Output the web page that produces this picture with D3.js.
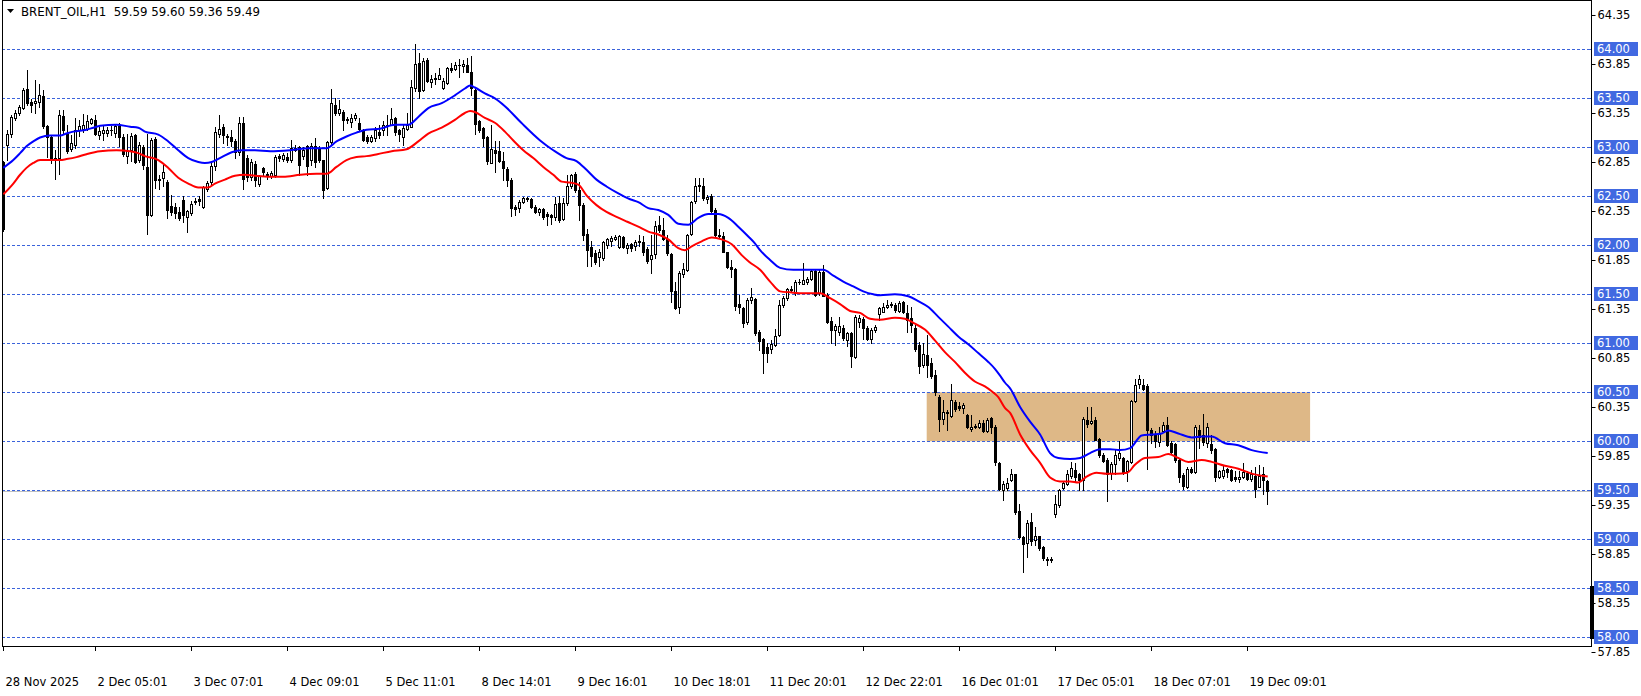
<!DOCTYPE html>
<html><head><meta charset="utf-8">
<script src="https://cdn.jsdelivr.net/npm/d3@7"></script>
<style>html,body{margin:0;padding:0;background:#fff;overflow:hidden}svg{display:block}text{font-family:"DejaVu Sans",sans-serif}</style>
</head><body><svg id="c" width="1641" height="696"></svg>
<script>
// ---- DATA (BRENT_OIL, H1) ----
const opens = [
62.85,63.02,63.14,63.30,63.35,63.40,63.59,63.46,63.45,63.46,63.52,63.22,63.10,62.89,62.89,63.32,63.14,62.98,63.02,63.18,63.19,63.19,63.25,63.28,63.13,63.15,63.15,63.18,63.15,63.22,63.11,62.91,
62.97,63.13,62.87,63.00,62.80,62.31,63.08,62.68,62.69,62.65,62.40,62.39,62.34,62.46,62.29,62.33,62.44,62.47,62.39,62.57,62.65,62.81,63.14,63.21,63.12,63.11,63.06,62.95,63.25,62.89,62.70,
62.83,62.63,62.79,62.73,62.71,62.72,62.91,62.88,62.90,62.87,62.99,63.00,62.91,63.01,62.87,63.01,62.99,62.87,62.58,63.05,63.43,63.35,63.36,63.29,63.26,63.30,63.25,63.18,63.11,63.06,63.09,
63.16,63.18,63.23,63.23,63.30,63.18,63.10,63.19,63.21,63.60,63.86,63.58,63.89,63.67,63.70,63.70,63.60,63.66,63.81,63.80,63.84,63.83,63.84,63.77,63.58,63.27,63.20,63.10,62.84,62.97,62.96,62.86,
62.78,62.67,62.39,62.38,62.44,62.47,62.47,62.39,62.34,62.37,62.32,62.31,62.29,62.43,62.27,62.43,62.61,62.73,62.56,62.41,62.12,61.98,61.92,61.88,61.87,62.00,62.04,62.06,61.98,62.08,61.97,
62.01,61.99,62.03,62.03,61.96,61.86,61.91,62.21,62.16,62.06,61.91,61.53,61.37,61.71,61.75,62.12,62.45,62.62,62.61,62.47,62.50,62.36,62.11,62.09,61.93,61.78,61.76,61.40,61.36,61.22,61.44,
61.45,61.12,61.04,60.96,60.94,60.98,61.08,61.39,61.46,61.55,61.51,61.63,61.61,61.63,61.66,61.74,61.51,61.73,61.49,61.23,61.14,61.12,61.16,61.03,61.10,60.86,61.22,61.25,61.16,61.04,61.14,
61.30,61.32,61.37,61.39,61.39,61.33,61.42,61.31,61.26,61.16,60.98,60.78,60.88,60.80,60.68,60.45,60.23,60.30,60.26,60.40,60.36,60.34,60.27,60.13,60.16,60.15,60.19,60.10,60.24,60.15,59.78,59.50,
59.52,59.60,59.67,59.29,59.02,58.96,59.18,58.99,59.03,58.92,58.80,58.79,59.26,59.35,59.52,59.56,59.65,59.71,59.67,59.61,60.22,60.19,60.22,60.02,59.86,59.81,59.68,59.77,59.83,59.83,59.70,
59.79,60.41,60.58,60.57,60.56,60.12,60.06,59.99,60.11,60.17,59.98,59.97,59.81,59.66,59.53,59.72,59.69,60.12,60.06,59.98,59.97,59.92,59.64,59.65,59.72,59.71,59.64,59.62,59.64,59.68,59.62,59.65,59.53,59.67,59.59
];
const highs = [
62.86,63.18,63.33,63.38,63.43,63.60,63.79,63.49,63.69,63.65,63.58,63.23,63.12,62.97,63.38,63.38,63.23,63.13,63.30,63.28,63.34,63.33,63.30,63.33,63.21,63.22,63.21,63.22,63.24,63.25,63.14,63.14,
63.15,63.14,63.05,63.02,63.14,63.09,63.11,62.72,62.82,62.67,62.51,62.43,62.39,62.50,62.36,62.45,62.48,62.50,62.60,62.66,62.84,63.21,63.33,63.24,63.14,63.18,63.08,63.31,63.31,62.92,62.88,
62.86,62.72,62.80,62.75,62.76,62.92,62.93,62.94,62.94,63.07,63.02,63.01,63.00,63.02,63.04,63.09,63.01,62.87,63.06,63.59,63.50,63.48,63.38,63.31,63.34,63.35,63.30,63.19,63.13,63.13,63.21,
63.23,63.27,63.33,63.40,63.31,63.19,63.24,63.35,63.69,64.05,63.96,63.91,63.91,63.74,63.76,63.81,63.71,63.82,63.86,63.87,63.90,63.89,63.91,63.93,63.59,63.28,63.21,63.12,63.23,63.06,63.06,62.95,
62.80,62.69,62.41,62.46,62.49,62.49,62.48,62.41,62.38,62.38,62.34,62.32,62.49,62.50,62.48,62.72,62.73,62.75,62.65,62.43,62.17,62.04,61.95,61.96,62.04,62.07,62.09,62.10,62.11,62.09,62.02,
62.02,62.05,62.10,62.09,61.98,62.11,62.25,62.30,62.28,62.11,61.92,61.63,61.74,61.82,62.12,62.45,62.69,62.69,62.69,62.51,62.52,62.38,62.17,62.14,61.93,61.85,61.77,61.49,61.37,61.46,61.56,
61.46,61.14,61.05,61.00,61.03,61.15,61.44,61.48,61.56,61.58,61.65,61.66,61.82,61.68,61.76,61.75,61.75,61.80,61.51,61.27,61.20,61.27,61.19,61.12,61.12,61.29,61.29,61.27,61.18,61.16,61.19,
61.37,61.41,61.44,61.42,61.41,61.43,61.43,61.39,61.37,61.19,61.01,61.00,61.08,60.85,60.73,60.47,60.42,60.32,60.58,60.42,60.40,60.39,60.28,60.27,60.18,60.22,60.22,60.24,60.25,60.17,59.79,59.59,
59.63,59.72,59.67,59.36,59.03,59.20,59.27,59.13,59.03,58.93,58.82,58.82,59.45,59.51,59.59,59.71,59.79,59.78,59.68,60.25,60.35,60.35,60.25,60.03,59.88,59.83,59.79,59.91,60.00,59.84,59.81,
60.42,60.64,60.68,60.64,60.58,60.14,60.10,60.15,60.20,60.25,60.00,59.98,59.82,59.68,59.74,59.74,60.17,60.17,60.28,60.19,60.06,59.93,59.71,59.76,59.73,59.72,59.70,59.70,59.78,59.70,59.71,59.74,59.76,59.74,59.60
];
const lows = [
62.15,62.87,63.10,63.28,63.33,63.39,63.43,63.36,63.35,63.41,63.20,62.90,62.84,62.68,62.73,63.14,62.94,62.96,62.99,63.12,63.16,63.18,63.24,63.13,63.08,63.07,63.12,63.13,63.10,63.01,62.91,62.84,
62.86,62.84,62.85,62.78,62.12,62.30,62.58,62.57,62.60,62.28,62.31,62.28,62.26,62.24,62.14,62.31,62.42,62.41,62.38,62.55,62.63,62.77,63.11,63.04,63.02,63.01,62.89,62.92,62.57,62.66,62.67,
62.60,62.61,62.72,62.68,62.69,62.70,62.86,62.86,62.85,62.85,62.96,62.72,62.88,62.72,62.82,62.80,62.85,62.48,62.57,63.02,63.33,63.33,63.18,63.25,63.21,63.28,63.17,63.06,63.04,63.05,63.06,
63.09,63.13,63.13,63.23,63.13,63.06,63.02,63.18,63.21,63.57,63.50,63.57,63.67,63.62,63.65,63.70,63.59,63.65,63.77,63.79,63.72,63.77,63.77,63.53,63.14,63.16,63.01,62.83,62.84,62.75,62.85,62.67,
62.60,62.30,62.31,62.34,62.43,62.45,62.38,62.33,62.31,62.27,62.21,62.22,62.26,62.24,62.26,62.41,62.58,62.54,62.26,62.05,61.79,61.79,61.81,61.79,61.85,61.97,61.99,62.05,61.97,61.97,61.92,
61.94,61.95,61.99,61.90,61.82,61.72,61.87,62.14,62.05,61.90,61.42,61.35,61.31,61.68,61.74,62.10,62.43,62.55,62.46,62.43,62.34,62.08,62.07,61.93,61.77,61.68,61.34,61.31,61.17,61.20,61.41,
61.08,60.93,60.70,60.81,60.90,60.97,61.07,61.37,61.44,61.52,61.49,61.61,61.61,61.61,61.65,61.48,61.49,61.48,61.21,61.00,60.98,61.08,61.03,60.97,60.76,60.85,61.17,61.04,61.03,61.00,61.12,
61.24,61.32,61.36,61.37,61.32,61.32,61.31,61.12,61.12,60.92,60.70,60.76,60.66,60.65,60.47,60.10,60.18,60.12,60.25,60.31,60.32,60.29,60.14,60.11,60.14,60.14,60.09,60.09,60.08,59.76,59.50,59.40,
59.50,59.59,59.26,59.01,58.67,58.82,58.94,58.94,58.89,58.79,58.74,58.77,59.23,59.33,59.51,59.55,59.63,59.59,59.50,59.50,60.15,60.18,60.01,59.84,59.79,59.39,59.62,59.67,59.81,59.67,59.59,
59.78,60.40,60.54,60.52,59.72,59.98,59.94,59.95,60.10,59.95,59.88,59.79,59.58,59.51,59.52,59.68,59.68,59.93,59.96,59.94,59.88,59.59,59.63,59.63,59.64,59.59,59.59,59.58,59.63,59.60,59.59,59.43,59.53,59.46,59.36
];
const closes = [
62.17,63.14,63.31,63.35,63.41,63.58,63.45,63.43,63.47,63.53,63.22,63.10,62.87,62.87,63.33,63.18,62.96,63.04,63.18,63.22,63.23,63.27,63.29,63.14,63.17,63.18,63.18,63.18,63.22,63.10,62.93,62.96,
63.12,62.85,63.02,62.82,62.31,63.07,62.67,62.67,62.75,62.36,62.34,62.33,62.28,62.31,62.35,62.42,62.45,62.45,62.59,62.64,62.81,63.16,63.19,63.13,63.11,63.06,62.95,63.25,62.68,62.70,62.85,
62.67,62.71,62.75,62.71,62.74,62.90,62.89,62.92,62.87,62.99,62.97,62.82,62.97,62.81,63.01,62.85,62.87,62.56,63.05,63.45,63.35,63.39,63.28,63.28,63.30,63.33,63.19,63.07,63.06,63.11,63.18,
63.13,63.23,63.22,63.29,63.16,63.14,63.20,63.23,63.62,63.85,63.57,63.88,63.68,63.70,63.71,63.74,63.68,63.81,63.79,63.84,63.84,63.85,63.77,63.61,63.24,63.18,63.09,62.86,62.98,62.94,62.86,62.79,
62.67,62.38,62.37,62.44,62.48,62.48,62.39,62.34,62.37,62.29,62.30,62.29,62.42,62.26,62.43,62.61,62.72,62.56,62.41,62.11,61.95,61.89,61.83,61.93,62.03,62.06,62.07,62.08,62.09,61.98,62.00,
61.97,62.03,62.04,61.93,61.84,61.90,62.20,62.16,62.06,61.92,61.53,61.36,61.72,61.76,62.11,62.44,62.61,62.60,62.48,62.49,62.35,62.10,62.09,61.93,61.78,61.76,61.38,61.37,61.21,61.44,61.47,
61.10,61.02,60.90,60.90,60.99,61.07,61.39,61.46,61.55,61.54,61.63,61.63,61.65,61.66,61.74,61.49,61.73,61.48,61.22,61.14,61.18,61.18,61.05,61.10,60.87,61.27,61.26,61.16,61.04,61.14,61.17,
61.36,61.37,61.39,61.40,61.34,61.41,61.32,61.24,61.19,60.94,60.77,60.89,60.78,60.67,60.50,60.23,60.30,60.29,60.42,60.33,60.34,60.37,60.15,60.15,60.15,60.19,60.10,60.22,60.15,59.79,59.51,59.56,
59.57,59.67,59.28,59.02,58.95,59.17,58.98,59.03,58.91,58.81,58.79,58.80,59.36,59.50,59.57,59.67,59.73,59.64,59.60,60.23,60.18,60.21,60.01,59.86,59.80,59.67,59.77,59.86,59.88,59.69,59.80,
60.41,60.57,60.64,60.53,60.12,60.06,60.00,60.08,60.17,59.96,59.89,59.81,59.64,59.54,59.72,59.69,60.15,60.04,59.99,60.15,59.91,59.64,59.70,59.71,59.69,59.61,59.62,59.64,59.69,59.62,59.67,59.51,59.65,59.61,59.49
];
// moving averages: [bar position, price]
const blueMA = [[0,62.79],[2.5,62.87],[4.2,62.94],[5.8,63.01],[7.5,63.06],[9.2,63.10],[11.7,63.12],[14.2,63.12],[15.8,63.14],[17.5,63.16],[20.8,63.18],[22.5,63.20],[24.2,63.22],[28.3,63.23],[31.7,63.21],[33.75,63.20],[35.4,63.16],[38.75,63.13],[41.25,63.06],[43.75,62.97],[46.25,62.89],[48.75,62.85],[50.4,62.84],[52.1,62.85],[54.6,62.90],[57.1,62.95],[59.6,62.97],[62.9,62.97],[66.7,62.96],[71.7,62.97],[76.7,62.99],[80.8,62.99],[83.3,63.06],[85.8,63.11],[88.3,63.15],[90.8,63.18],[94.2,63.19],[97.9,63.23],[101.25,63.23],[103.75,63.31],[106.25,63.40],[109.6,63.45],[112.9,63.53],[115.4,63.60],[116.7,63.63],[117.9,63.61],[120.4,63.55],[122.9,63.50],[125.4,63.42],[129.5,63.25],[134.2,63.07],[137.5,62.97],[140.8,62.89],[143.3,62.86],[145.8,62.77],[148.3,62.67],[150.8,62.60],[153.3,62.54],[156.7,62.47],[158.75,62.44],[161.25,62.38],[163.75,62.36],[166.25,62.31],[168.75,62.22],[171.25,62.21],[173.75,62.28],[176.25,62.32],[178.75,62.32],[181.25,62.28],[183.75,62.19],[186.25,62.09],[187.9,62.02],[189.2,61.95],[191.7,61.85],[194.2,61.77],[197.5,61.75],[200.8,61.75],[205,61.75],[207.5,61.69],[210,61.63],[212.5,61.58],[215,61.53],[217.5,61.50],[219.2,61.49],[222.9,61.50],[226.25,61.48],[228.75,61.43],[231.25,61.37],[233.75,61.27],[236.25,61.17],[238.75,61.07],[241.25,60.99],[243.75,60.90],[246.25,60.81],[247.9,60.74],[249.2,60.67],[250.4,60.60],[251.7,60.54],[254.2,60.35],[256.7,60.20],[259.2,60.07],[261.7,59.88],[263.75,59.83],[266.7,59.82],[269.2,59.83],[271.7,59.88],[274.2,59.92],[276.7,59.92],[279.2,59.91],[281.7,59.93],[284.6,60.06],[287.1,60.07],[289.6,60.08],[291.25,60.11],[293.75,60.08],[297.1,60.04],[299.6,60.05],[302.1,60.05],[305.4,59.98],[308.75,59.96],[312.1,59.91],[316.1,59.88]];
const redMA = [[0,62.52],[2.5,62.63],[4.2,62.72],[5.8,62.79],[7.5,62.84],[9.2,62.87],[11.7,62.87],[14.2,62.87],[15.8,62.88],[18.3,62.90],[20.8,62.93],[24.2,62.96],[28.3,62.97],[31.7,62.96],[33.75,62.94],[35.4,62.91],[38.75,62.87],[41.25,62.79],[43.75,62.69],[46.25,62.63],[48.75,62.59],[51.25,62.59],[52.9,62.63],[55.4,62.67],[57.9,62.71],[60.4,62.72],[62.9,62.71],[66.7,62.70],[70,62.70],[74.2,62.72],[78.3,62.73],[80.8,62.73],[83.3,62.80],[85.8,62.87],[88.3,62.90],[90.8,62.91],[93.5,62.93],[97.1,62.96],[100.8,62.98],[103.75,63.06],[106.25,63.14],[109.6,63.20],[112.9,63.28],[115.4,63.35],[116.7,63.37],[117.9,63.36],[120.4,63.30],[122.9,63.25],[125.4,63.16],[127.5,63.07],[130,62.97],[132.5,62.89],[135,62.80],[137.5,62.72],[139.6,62.65],[141.7,62.64],[143.75,62.62],[145.8,62.51],[148.3,62.41],[150.8,62.34],[153.3,62.29],[156,62.24],[158.75,62.19],[161.25,62.14],[163.75,62.11],[166.25,62.06],[168.75,61.97],[170.4,61.95],[172.1,61.99],[174.6,62.04],[177.1,62.08],[179.6,62.06],[182.1,62.01],[184.6,61.90],[186.5,61.83],[189.2,61.75],[191.7,61.63],[194.2,61.53],[196.7,61.52],[200,61.51],[204.2,61.51],[206.7,61.46],[209.2,61.40],[211.7,61.33],[214.2,61.31],[216.7,61.25],[219.2,61.24],[222.9,61.26],[225.4,61.25],[227.9,61.20],[230.4,61.14],[232.9,61.03],[235.4,60.91],[237.9,60.81],[240.4,60.70],[242.9,60.61],[245.4,60.56],[247.1,60.51],[248.75,60.45],[250.4,60.34],[251.7,60.29],[254.2,60.07],[256.7,59.91],[259.2,59.78],[261.7,59.63],[264.2,59.59],[266.7,59.59],[268.75,59.58],[270.8,59.64],[273.3,59.68],[275.8,59.67],[278.3,59.67],[281,59.68],[282.9,59.76],[285.4,59.83],[288.75,59.84],[291.25,59.87],[293.75,59.83],[296.25,59.79],[299.6,59.81],[302.1,59.79],[305.4,59.75],[308.75,59.72],[312.1,59.67],[316.1,59.64]];
const levelLines = [58.0,58.5,59.0,59.5,60.0,60.5,61.0,61.5,62.0,62.5,63.0,63.5,64.0];
const priceTicks = [57.85,58.35,58.85,59.35,59.85,60.35,60.85,61.35,61.85,62.35,62.85,63.35,63.85,64.35];
const timeLabels = ["28 Nov 2025","2 Dec 05:01","3 Dec 07:01","4 Dec 09:01","5 Dec 11:01","8 Dec 14:01","9 Dec 16:01","10 Dec 18:01","11 Dec 20:01","12 Dec 22:01","16 Dec 01:01","17 Dec 05:01","18 Dec 07:01","19 Dec 09:01"];
const timeLabelBars = [0,23,47,71,95,119,143,167,191,215,239,263,287,311];
const zoneBars = [230.85, 326.7];
const zonePrices = [60.0, 60.5];
const bidPrice = 59.49;
const legendText = "BRENT_OIL,H1  59.59 59.60 59.36 59.49";

// ---- CHART ----
const W = 1641, H = 696;
const L = 2, R = 1591, T = 0, B = 646;
const svg = d3.select("#c");
svg.append("rect").attr("width",W).attr("height",H).attr("fill","#fff");
const x = d3.scaleLinear().domain([0, 397]).range([3.3, 1591.3]);
const y = d3.scaleLinear().domain([58, 64]).range([637.3, 49.3]);

svg.append("clipPath").attr("id","clip").append("rect").attr("x",L+1).attr("y",T).attr("width",R-L-1).attr("height",B-T);
const plot = svg.append("g").attr("clip-path","url(#clip)");

// zone
plot.append("rect")
  .attr("x", x(zoneBars[0])).attr("width", x(zoneBars[1]) - x(zoneBars[0]))
  .attr("y", y(zonePrices[1])).attr("height", y(zonePrices[0]) - y(zonePrices[1]))
  .attr("fill", "#DEB887");

// level lines
plot.selectAll("line.lvl").data(levelLines).join("line")
  .attr("x1", L).attr("x2", R)
  .attr("y1", d => Math.round(y(d)) + 0.5).attr("y2", d => Math.round(y(d)) + 0.5)
  .attr("stroke", "#3B63DB").attr("stroke-width", 1).attr("stroke-dasharray", "3,2");

// bid line
plot.append("line").attr("x1", L).attr("x2", R)
  .attr("y1", Math.round(y(bidPrice)) + 0.5).attr("y2", Math.round(y(bidPrice)) + 0.5)
  .attr("stroke", "#C0C0C0").attr("stroke-width", 1);

// candles
const bars = d3.range(opens.length).map(i => ({i, o: opens[i], h: highs[i], l: lows[i], c: closes[i]}));
const cg = plot.append("g");
bars.forEach(d => {
  const cx = Math.round(x(d.i));
  const yh = Math.round(y(d.h)), yl = Math.round(y(d.l));
  cg.append("line").attr("x1", cx + 0.5).attr("x2", cx + 0.5).attr("y1", yh).attr("y2", yl + 1)
    .attr("stroke", "#000").attr("stroke-width", 1);
  const top = Math.round(y(Math.max(d.o, d.c))), bot = Math.round(y(Math.min(d.o, d.c)));
  if (bot - top < 1) {
    cg.append("line").attr("x1", cx - 1).attr("x2", cx + 2).attr("y1", top + 0.5).attr("y2", top + 0.5)
      .attr("stroke", "#000").attr("stroke-width", 1);
  } else if (d.c < d.o) {
    cg.append("rect").attr("x", cx - 1).attr("y", top).attr("width", 3).attr("height", bot - top + 1).attr("fill", "#000");
  } else {
    cg.append("rect").attr("x", cx - 0.5).attr("y", top + 0.5).attr("width", 2).attr("height", bot - top)
      .attr("fill", "#fff").attr("stroke", "#000").attr("stroke-width", 1);
  }
});

// moving averages
const line = d3.line().x(d => x(d[0])).y(d => y(d[1])).curve(d3.curveMonotoneX);
plot.append("path").attr("d", line(blueMA)).attr("fill", "none").attr("stroke", "#0000FF").attr("stroke-width", 2);
plot.append("path").attr("d", line(redMA)).attr("fill", "none").attr("stroke", "#FF0000").attr("stroke-width", 2);

// frame
svg.append("line").attr("x1", L + 0.5).attr("x2", L + 0.5).attr("y1", T).attr("y2", B).attr("stroke", "#000");
svg.append("line").attr("x1", L).attr("x2", R + 1).attr("y1", T + 0.5).attr("y2", T + 0.5).attr("stroke", "#000");

// right price axis
const yAxis = d3.axisRight(y).tickValues(priceTicks).tickSize(4).tickSizeOuter(0).tickFormat(d3.format(".2f"));
const ya = svg.append("g").attr("transform", `translate(${R + 0.5},0)`).call(yAxis);
ya.select(".domain").attr("stroke", "#000");
ya.selectAll("text").attr("font-family", "DejaVu Sans").attr("font-size", 11.5).attr("fill", "#000").attr("x", 6);
ya.select(".domain").attr("d", `M0,${T}V${B}`);

// highlighted level labels
const hl = svg.append("g");
levelLines.forEach(v => {
  const yy = Math.round(y(v));
  hl.append("line").attr("x1", R - 4).attr("x2", R).attr("y1", yy + 0.5).attr("y2", yy + 0.5).attr("stroke", "#3B63DB");
  hl.append("rect").attr("x", R + 3).attr("y", yy - 7).attr("width", 44).attr("height", 14).attr("fill", "#4169E1");
  hl.append("text").attr("x", R + 6).attr("y", yy).attr("dy", "0.36em").attr("font-size", 11.5).attr("fill", "#fff").text(d3.format(".2f")(v));
});
// current-price marker on axis
svg.append("rect").attr("x", R - 1).attr("y", 586).attr("width", 4).attr("height", 53).attr("fill", "#000");

// bottom time axis
svg.append("line").attr("x1", L).attr("x2", R + 1).attr("y1", B + 0.5).attr("y2", B + 0.5).attr("stroke", "#000");
const ta = svg.append("g");
timeLabelBars.forEach((b, k) => {
  const xx = Math.round(x(b)) + 0.5;
  ta.append("line").attr("x1", xx).attr("x2", xx).attr("y1", B).attr("y2", B + 5).attr("stroke", "#000");
  ta.append("text").attr("x", xx + 2).attr("y", 686).attr("font-size", 11.5).attr("fill", "#000").text(timeLabels[k]);
});

// legend
svg.append("path").attr("d", "M7,9L14,9L10.5,13Z").attr("fill", "#000");
svg.append("text").attr("x", 21).attr("y", 16).attr("font-size", 11.8).attr("fill", "#000").style("white-space","pre").text(legendText);
</script></body></html>
